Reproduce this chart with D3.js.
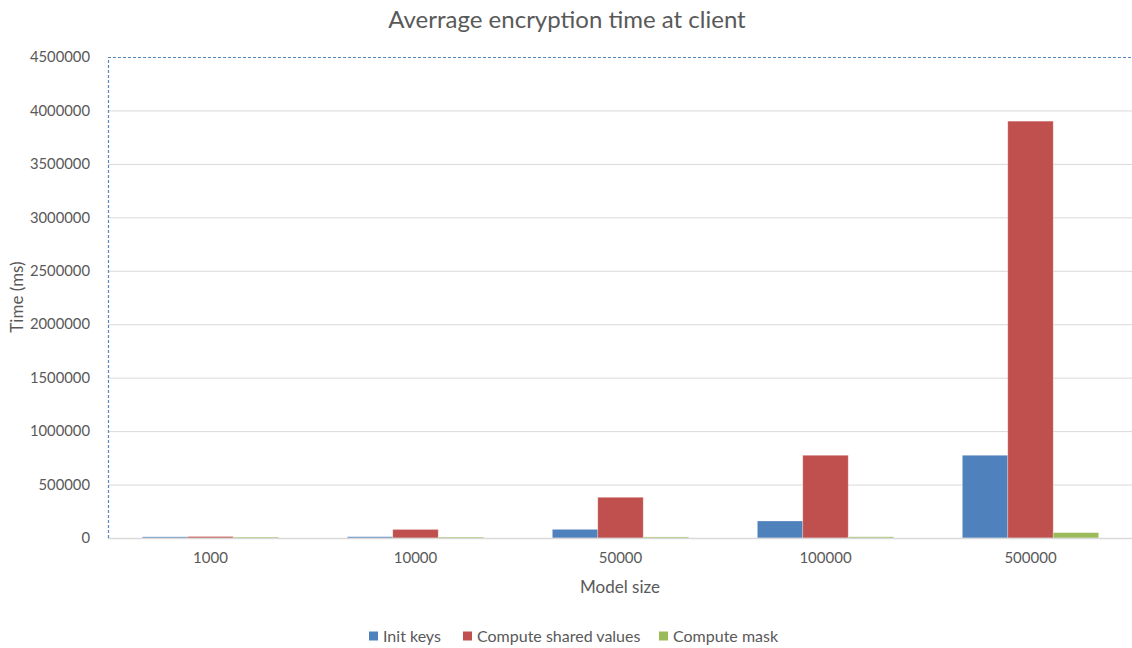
<!DOCTYPE html>
<html>
<head>
<meta charset="utf-8">
<script src="https://cdn.jsdelivr.net/npm/d3@7"></script>
<style>
  html, body { margin: 0; padding: 0; background: #fff; }
  svg { display: block; font-family: Lato, "Open Sans", sans-serif; }
</style>
</head>
<body>
<svg id="chart" width="1132" height="648"></svg>
<script>
// Model sizes on the x axis
const categories = ["1000", "10000", "50000", "100000", "500000"];
// Series names and their times in ms, one value per model size
const seriesNames = ["Init keys", "Compute shared values", "Compute mask"];
const initKeys = [11000, 12000, 81000, 159000, 774000];
const computeShared = [14000, 80000, 381000, 774000, 3900000];
const computeMask = [9000, 9000, 10000, 11000, 50000];
const yTicks = [0, 500000, 1000000, 1500000, 2000000, 2500000, 3000000, 3500000, 4000000, 4500000];
const colors = ["#4f81bd", "#c0504d", "#9bbb59"];

const seriesValues = [initKeys, computeShared, computeMask];
const rows = categories.map((c, i) => ({
  cat: c,
  values: seriesNames.map((s, j) => ({ key: s, value: seriesValues[j][i], color: colors[j] }))
}));

const svg = d3.select("#chart");
const plotLeft = 108, plotRight = 1133, plotTop = 57, plotBottom = 538;

const x = d3.scaleBand().domain(categories).range([plotLeft, plotRight])
  .paddingInner(0.335).paddingOuter(0.1675);
const xInner = d3.scaleBand().domain(seriesNames).range([0, x.bandwidth()]);
const y = d3.scaleLinear().domain([0, 4500000]).range([plotBottom, plotTop]);

// Horizontal gridlines
svg.append("g").selectAll("line").data(yTicks.filter(t => t > 0 && t < 4500000)).join("line")
  .attr("x1", plotLeft).attr("x2", plotRight)
  .attr("y1", d => y(d) + 0.5).attr("y2", d => y(d) + 0.5)
  .attr("stroke", "#d9d9d9").attr("stroke-width", 1);

// Y tick labels
const yAxis = d3.axisLeft(y).tickValues(yTicks).tickSize(0).tickPadding(0).tickFormat(d3.format("d"));
const gy = svg.append("g").attr("transform", `translate(${plotLeft - 18},0)`).call(yAxis);
gy.select(".domain").remove();
gy.selectAll("text").attr("fill", "#595959").style("font-size", "14.8px")
  .style("font-family", "Lato, sans-serif");

// Bars
const groups = svg.append("g").selectAll("g").data(rows).join("g")
  .attr("transform", d => `translate(${x(d.cat)},0)`);
groups.selectAll("rect").data(d => d.values).join("rect")
  .attr("x", d => xInner(d.key))
  .attr("width", xInner.bandwidth())
  .attr("y", d => y(d.value))
  .attr("height", d => plotBottom - y(d.value))
  .attr("fill", d => d.color)
  .attr("stroke", "#ffffff").attr("stroke-opacity", 0.35).attr("stroke-width", 0.8);

// Category axis baseline and labels
svg.append("line").attr("x1", plotLeft).attr("x2", plotRight)
  .attr("y1", plotBottom + 0.5).attr("y2", plotBottom + 0.5)
  .attr("stroke", "#d9d9d9").attr("stroke-width", 1.5);
const xAxis = d3.axisBottom(x).tickSize(0).tickPadding(0);
const gx = svg.append("g").attr("transform", `translate(0,${plotBottom + 14})`).call(xAxis);
gx.select(".domain").remove();
gx.selectAll("text").attr("fill", "#595959").style("font-size", "15px")
  .style("font-family", "Lato, sans-serif");

// Plot area outline (dashed, top and left)
svg.append("path")
  .attr("d", `M${plotLeft + 0.5},${plotBottom} V${plotTop + 0.5} H${plotRight}`)
  .attr("fill", "none").attr("stroke", "#4f81bd").attr("stroke-opacity", 0.95)
  .attr("stroke-width", 1.2).attr("stroke-dasharray", "3,2");

// Titles
svg.append("text").attr("x", 567).attr("y", 28).attr("text-anchor", "middle")
  .attr("fill", "#595959").style("font-size", "24px").text("Averrage encryption time at client");
svg.append("text").attr("x", 620).attr("y", 593).attr("text-anchor", "middle")
  .attr("fill", "#595959").style("font-size", "17px").text("Model size");
svg.append("text").attr("transform", "translate(23,297) rotate(-90)").attr("text-anchor", "middle")
  .attr("fill", "#595959").style("font-size", "17px").text("Time (ms)");

// Legend
const legendX = [369, 463, 659];
const legend = svg.append("g").selectAll("g").data(seriesNames).join("g")
  .attr("transform", (d, i) => `translate(${legendX[i]},636)`);
legend.append("rect").attr("x", 0).attr("y", -4.5).attr("width", 9).attr("height", 9)
  .attr("fill", (d, i) => colors[i]);
legend.append("text").attr("x", 14).attr("y", 5.5).attr("fill", "#595959")
  .style("font-size", "16px").text(d => d);
</script>
</body>
</html>
